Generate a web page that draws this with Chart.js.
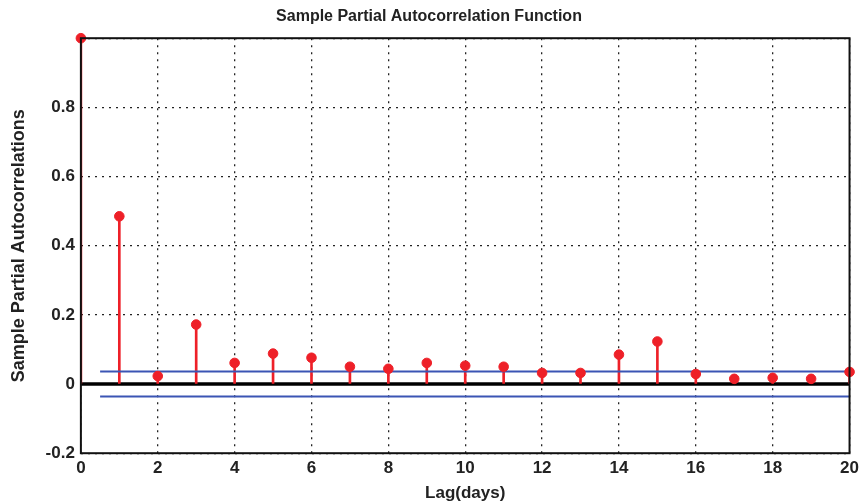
<!DOCTYPE html>
<html lang="en">
<head>
    <meta charset="UTF-8" />
    <title>Sample Partial Autocorrelation Function</title>
    <script src="https://cdn.jsdelivr.net/npm/chart.js"></script>
    <style>
        html, body { margin: 0; padding: 0; background: #fff; }
        #wrap { width: 864px; height: 504px; }
    </style>
</head>
<body>
    <div id="wrap"><canvas id="pacf" width="864" height="504"></canvas></div>

    <script>
        const lags = [0, 1, 2, 3, 4, 5, 6, 7, 8, 9, 10, 11, 12, 13, 14, 15, 16, 17, 18, 19, 20];
        const pacf = [1, 0.485, 0.023, 0.172, 0.061, 0.088, 0.076, 0.05, 0.044, 0.061, 0.053,
                      0.05, 0.032, 0.032, 0.085, 0.123, 0.029, 0.015, 0.018, 0.015, 0.035];
        const bound = 0.036;          // confidence bounds
        const boundStart = 0.5;
        const xTicks = [0, 2, 4, 6, 8, 10, 12, 14, 16, 18, 20];
        const yTicks = [-0.2, 0, 0.2, 0.4, 0.6, 0.8, 1];

        const fontFamily = "'Liberation Sans Narrow', 'Liberation Sans', Arial, sans-serif";
        const red = "#ee2028";

        // box around plot area
        const frame = {
            id: "frame",
            afterDatasetsDraw(chart) {
                const a = chart.chartArea, c = chart.ctx;
                c.save();
                c.strokeStyle = "#111";
                c.lineWidth = 2;
                c.strokeRect(a.left, a.top, a.right - a.left, a.bottom - a.top);
                c.restore();
            }
        };

        new Chart(document.getElementById("pacf"), {
            data: {
                datasets: [
                    {
                        type: "line",
                        data: [{ x: 0, y: 0 }, { x: 20, y: 0 }],
                        borderColor: "#000",
                        borderWidth: 3.5,
                        pointRadius: 0,
                        order: 3
                    },
                    {
                        type: "bar",
                        data: lags.map((l, i) => ({ x: l, y: pacf[i] })),
                        backgroundColor: red,
                        barThickness: 2,
                        order: 2
                    },
                    {
                        type: "line",
                        data: [{ x: boundStart, y: bound }, { x: 20, y: bound }],
                        borderColor: "#3b55b4",
                        borderWidth: 2,
                        pointRadius: 0,
                        order: 1
                    },
                    {
                        type: "line",
                        data: [{ x: boundStart, y: -bound }, { x: 20, y: -bound }],
                        borderColor: "#3b55b4",
                        borderWidth: 2,
                        pointRadius: 0,
                        order: 1
                    },
                    {
                        type: "scatter",
                        data: lags.map((l, i) => ({ x: l, y: pacf[i] })),
                        backgroundColor: red,
                        borderColor: red,
                        pointRadius: 4.8,
                        clip: false,
                        order: 0
                    }
                ]
            },
            options: {
                responsive: false,
                animation: false,
                layout: { padding: { left: 8, right: 14, top: 0, bottom: 0 } },
                plugins: {
                    legend: { display: false },
                    tooltip: { enabled: false },
                    title: {
                        display: true,
                        text: "Sample Partial Autocorrelation Function",
                        color: "#222",
                        font: { family: fontFamily, size: 16, weight: "bold" },
                        padding: { top: 7, bottom: 12 }
                    }
                },
                scales: {
                    x: {
                        type: "linear",
                        min: 0,
                        max: 20,
                        offset: false,
                        afterBuildTicks: axis => { axis.ticks = xTicks.map(v => ({ value: v })); },
                        ticks: {
                            color: "#222",
                            font: { family: fontFamily, size: 17, weight: "bold" },
                            padding: 5
                        },
                        grid: {
                            color: "#222",
                            lineWidth: 1.3,
                            offset: false,
                            drawTicks: false
                        },
                        border: { display: false, dash: [2, 5] },
                        title: {
                            display: true,
                            text: "Lag(days)",
                            color: "#222",
                            font: { family: fontFamily, size: 17, weight: "bold" },
                            padding: { top: 0, bottom: 0 }
                        }
                    },
                    y: {
                        min: -0.2,
                        max: 1,
                        afterBuildTicks: axis => { axis.ticks = yTicks.map(v => ({ value: v })); },
                        ticks: {
                            color: "#222",
                            font: { family: fontFamily, size: 17, weight: "bold" },
                            padding: 6,
                            callback: v => (v === 1 ? "" : String(Math.round(v * 10) / 10))
                        },
                        grid: {
                            color: "#222",
                            lineWidth: 1.3,
                            drawTicks: false
                        },
                        border: { display: false, dash: [2, 5] },
                        title: {
                            display: true,
                            text: "Sample Partial Autocorrelations",
                            color: "#222",
                            font: { family: fontFamily, size: 18, weight: "bold" },
                            padding: { top: 0, bottom: 10 }
                        }
                    }
                }
            },
            plugins: [frame]
        });
    </script>
</body>
</html>
